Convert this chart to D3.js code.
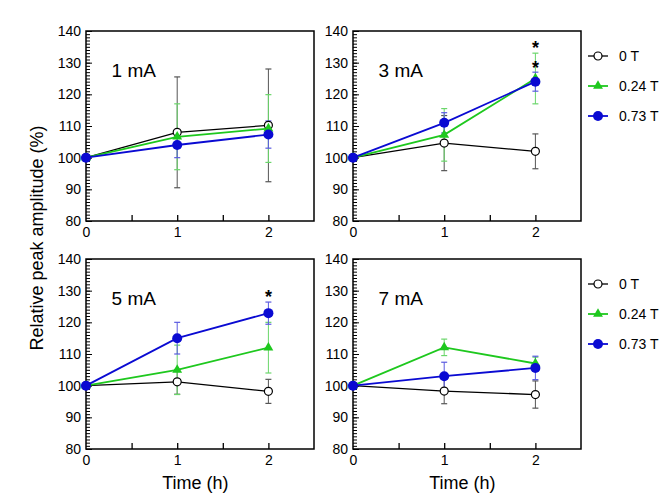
<!DOCTYPE html>
<html>
<head>
<meta charset="utf-8">
<script src="https://cdn.jsdelivr.net/npm/d3@7"></script>
<style>
  body { margin: 0; background: #fff; }
  svg { font-family: Arial, "Liberation Sans", sans-serif; }
</style>
</head>
<body>
<div id="chart"></div>
<script>
// Relative peak amplitude over time, 4 current levels x 3 field strengths

const times = [0, 1, 2];
const panelNames = ['1 mA', '3 mA', '5 mA', '7 mA'];
const seriesNames = ['0 T', '0.24 T', '0.73 T'];
const yTicks = [80, 90, 100, 110, 120, 130, 140];
const xTicks = [0, 1, 2];

// means per panel, per series
const mean1mA = [[100, 108, 110.2], [100, 106.6, 109.2], [100, 104, 107.3]];
const err1mA  = [[0, 17.5, 17.8], [0, 10.4, 10.7], [0, 4, 4.3]];
const mean3mA = [[100, 104.6, 102], [100, 107.2, 125], [100, 111, 124]];
const err3mA  = [[0, 8.7, 5.5], [0, 8.3, 8], [0, 3.2, 3]];
const mean5mA = [[100, 101.2, 98.2], [100, 105, 112], [100, 115, 122.9]];
const err5mA  = [[0, 3.9, 3.8], [0, 7.8, 8], [0, 5, 3.5]];
const mean7mA = [[100, 98.3, 97.2], [100, 112.1, 107], [100, 103, 105.6]];
const err7mA  = [[0, 4, 4.3], [0, 2.6, 2], [0, 4.4, 3.7]];

// significance marks: [panel index, time, y level]
const stars = [[1, 2, 136], [1, 2, 129.5], [2, 2, 129.2]];

const means = [mean1mA, mean3mA, mean5mA, mean7mA];
const errs = [err1mA, err3mA, err5mA, err7mA];

const colors = ['#000000', '#1ec81e', '#0a0ad2'];
const errColors = ['#555555', '#6ad66a', '#5a5ae0'];

const W = 665, H = 501;
const pw = 228, ph = 190;
const origins = [[86, 31], [353, 31], [86, 259], [353, 259]];

const svg = d3.select('#chart').append('svg')
    .attr('width', W)
    .attr('height', H);

function drawMarker(g, k, cx, cy) {
    if (k === 0) {
        g.append('circle').attr('cx', cx).attr('cy', cy).attr('r', 4)
            .attr('fill', '#fff').attr('stroke', '#000').attr('stroke-width', 1.2);
    } else if (k === 1) {
        g.append('path')
            .attr('d', d3.symbol(d3.symbolTriangle, 42)())
            .attr('transform', `translate(${cx},${cy})`)
            .attr('fill', colors[1]);
    } else {
        g.append('circle').attr('cx', cx).attr('cy', cy).attr('r', 5)
            .attr('fill', colors[2]);
    }
}

panelNames.forEach((name, p) => {
    const [ox, oy] = origins[p];
    const g = svg.append('g').attr('transform', `translate(${ox},${oy})`);

    const x = d3.scaleLinear().domain([0, 2.5]).range([0, pw]);
    const y = d3.scaleLinear().domain([80, 140]).range([ph, 0]);

    // minor y ticks every 1 unit, inside
    g.append('g')
        .call(d3.axisRight(y).tickValues(d3.range(80, 141, 1)).tickSize(4).tickFormat(''))
        .call(a => a.select('.domain').remove())
        .selectAll('line').attr('stroke', '#000');
    g.append('g')
        .call(d3.axisRight(y).tickValues(yTicks).tickSize(6).tickFormat(''))
        .call(a => a.select('.domain').remove())
        .selectAll('line').attr('stroke', '#000');

    // y labels
    g.append('g')
        .call(d3.axisLeft(y).tickValues(yTicks).tickSize(0).tickPadding(5))
        .call(a => a.select('.domain').remove())
        .selectAll('text')
        .attr('font-size', 14)
        .attr('font-family', 'Arial, "Liberation Sans", sans-serif')
        .attr('fill', '#000');

    // x ticks inside, with half-hour minors
    g.append('g')
        .attr('transform', `translate(0,${ph})`)
        .call(d3.axisTop(x).tickValues([0.5, 1, 1.5, 2]).tickSize(6).tickFormat(''))
        .call(a => a.select('.domain').remove())
        .selectAll('line').attr('stroke', '#000').attr('stroke-width', 1.3);

    g.append('g')
        .attr('transform', `translate(0,${ph})`)
        .call(d3.axisBottom(x).tickValues(xTicks).tickSize(0).tickPadding(6).tickFormat(d3.format('d')))
        .call(a => a.select('.domain').remove())
        .selectAll('text')
        .attr('font-size', 14)
        .attr('font-family', 'Arial, "Liberation Sans", sans-serif')
        .attr('fill', '#000');

    // frame
    g.append('rect')
        .attr('width', pw).attr('height', ph)
        .attr('fill', 'none').attr('stroke', '#000').attr('stroke-width', 1.5);

    // panel label
    g.append('text')
        .attr('x', x(0.28)).attr('y', y(125.6))
        .attr('font-size', 19)
        .text(name);

    const line = d3.line().x((d, i) => x(times[i])).y(d => y(d));

    // error bars first
    seriesNames.forEach((s, k) => {
        const eg = g.append('g');
        times.forEach((t, i) => {
            const e = errs[p][k][i];
            if (!e) return;
            const m = means[p][k][i];
            const cx = x(t);
            eg.append('line').attr('x1', cx).attr('x2', cx)
                .attr('y1', y(m - e)).attr('y2', y(m + e))
                .attr('stroke', errColors[k]).attr('stroke-width', 1);
            [m - e, m + e].forEach(v => {
                eg.append('line').attr('x1', cx - 3).attr('x2', cx + 3)
                    .attr('y1', y(v)).attr('y2', y(v))
                    .attr('stroke', errColors[k]).attr('stroke-width', 1.2);
            });
        });
    });

    seriesNames.forEach((s, k) => {
        g.append('path')
            .datum(means[p][k])
            .attr('fill', 'none')
            .attr('stroke', colors[k])
            .attr('stroke-width', k === 0 ? 1.3 : 1.8)
            .attr('d', line);
    });

    seriesNames.forEach((s, k) => {
        times.forEach((t, i) => drawMarker(g, k, x(t), y(means[p][k][i])));
    });

    stars.filter(d => d[0] === p).forEach(d => {
        g.append('text')
            .attr('x', x(d[1])).attr('y', y(d[2]) + 10)
            .attr('text-anchor', 'middle')
            .attr('font-size', 18)
            .attr('font-weight', 'bold')
            .text('*');
    });

    // x title on bottom row
    if (p >= 2) {
        g.append('text')
            .attr('x', x(1.2)).attr('y', ph + 40)
            .attr('text-anchor', 'middle')
            .attr('font-size', 18)
            .text('Time (h)');
    }

    // legend beside right column
    if (p % 2 === 1) {
        const lg = g.append('g').attr('transform', `translate(${pw + 7},0)`);
        seriesNames.forEach((s, k) => {
            const ly = 25 + k * 30;
            lg.append('line').attr('x1', 0).attr('x2', 20)
                .attr('y1', ly).attr('y2', ly)
                .attr('stroke', colors[k]).attr('stroke-width', k === 0 ? 1.3 : 1.8);
            drawMarker(lg, k, 10, ly);
            lg.append('text')
                .attr('x', 31).attr('y', ly + 5)
                .attr('font-size', 14)
                .text(s);
        });
    }
});

// shared y title
svg.append('text')
    .attr('transform', 'translate(43,238) rotate(-90)')
    .attr('text-anchor', 'middle')
    .attr('font-size', 18)
    .text('Relative peak amplitude (%)');
</script>
</body>
</html>
